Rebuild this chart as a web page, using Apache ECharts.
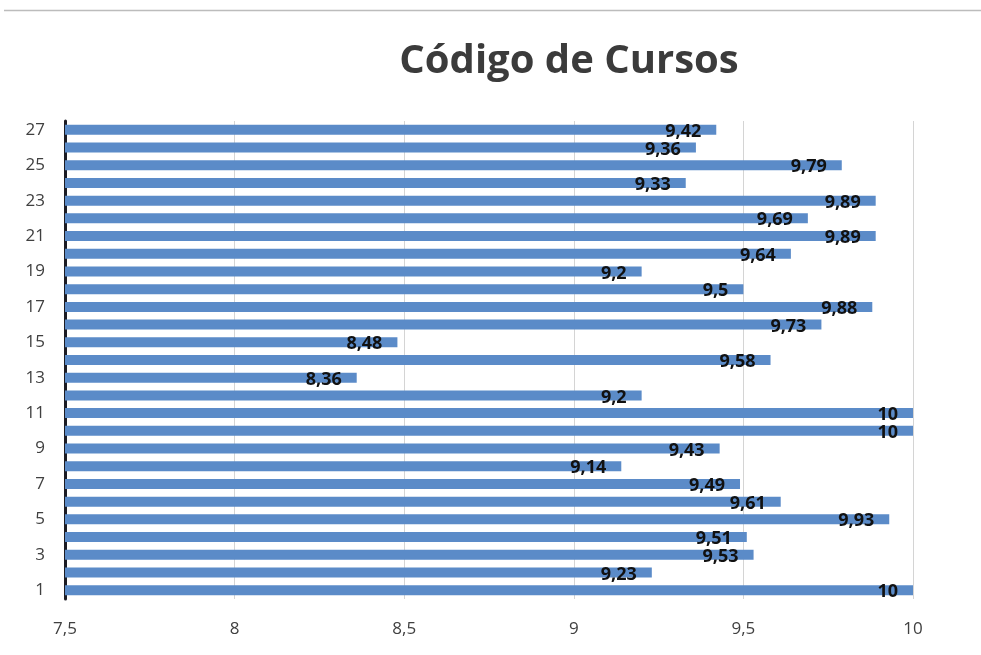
<!DOCTYPE html>
<html><head><meta charset="utf-8">
<script src="https://cdn.jsdelivr.net/npm/echarts@6/dist/echarts.min.js"></script>
<style>html,body{margin:0;padding:0;background:#fff}#c{width:981px;height:655px}</style>
</head><body><div id="c"></div>
<script>
const categories = ['1','2','3','4','5','6','7','8','9','10','11','12','13','14','15','16','17','18','19','20','21','22','23','24','25','26','27'];
const values = [10, 9.23, 9.53, 9.51, 9.93, 9.61, 9.49, 9.14, 9.43, 10, 10, 9.2, 8.36, 9.58, 8.48, 9.73, 9.88, 9.5, 9.2, 9.64, 9.89, 9.69, 9.89, 9.33, 9.79, 9.36, 9.42];
const xTicks = [7.5, 8, 8.5, 9, 9.5, 10];
const title = 'Código de Cursos';

const fmt = v => String(v).replace('.', ',');
const chart = echarts.init(document.getElementById('c'));
chart.setOption({
  animation: false,
  title: {text: title, left: 564, top: 37, textAlign: 'center',
    textStyle: {fontFamily: 'Open Sans', fontWeight: 'bold', fontSize: 40, color: '#3b3b3b'}},
  graphic: [{type: 'line', shape: {x1: 4, y1: 10.5, x2: 981, y2: 10.5}, style: {stroke: '#bcbcbc', lineWidth: 1.5}}],
  grid: {left: 65, right: 68, top: 121, bottom: 56},
  xAxis: {type: 'value', min: xTicks[0], max: xTicks[xTicks.length-1], interval: 0.5,
    axisLine: {show: false}, axisTick: {show: false},
    splitLine: {show: true, lineStyle: {color: '#d4d4d4', width: 1}},
    axisLabel: {formatter: fmt, color: '#404040', fontFamily: 'Open Sans', fontSize: 17, margin: 22}},
  yAxis: {type: 'category', data: categories,
    axisLine: {show: true, lineStyle: {color: '#1c1c24', width: 3}},
    axisTick: {show: false},
    axisLabel: {interval: 1, color: '#404040', fontFamily: 'Open Sans', fontSize: 17, margin: 20}},
  series: [{type: 'bar', data: values, barWidth: 10, itemStyle: {color: '#5b8bc8'},
    label: {show: true, position: 'insideRight', distance: 15, offset: [0, 2], formatter: p => fmt(p.value),
      color: '#111', fontWeight: 'bold', fontFamily: 'Open Sans', fontSize: 18}}]
});
</script></body></html>
